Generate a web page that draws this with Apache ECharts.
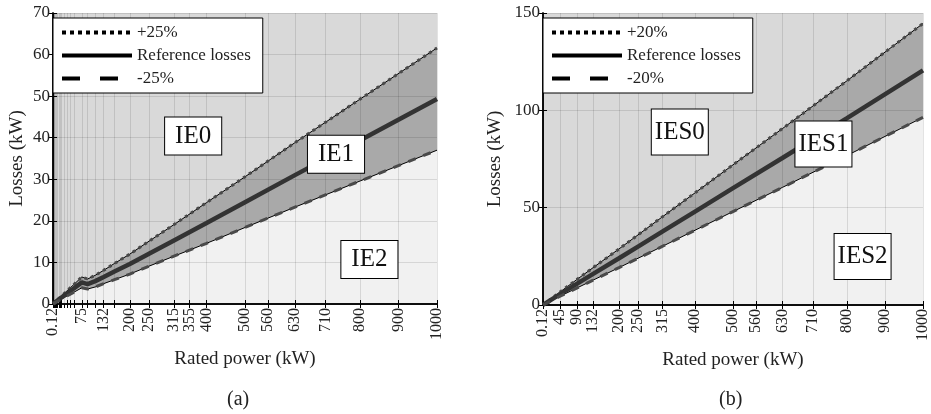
<!DOCTYPE html>
<html>
<head>
<meta charset="utf-8">
<script src="https://cdn.jsdelivr.net/npm/echarts@6/dist/echarts.min.js"></script>
<style>
  html, body { margin: 0; padding: 0; background: #fff; }
  #main { width: 931px; height: 414px; }
</style>
</head>
<body>
<div id="main"></div>
<script>
// (a) IE classes, ±25 % around the reference losses
const leftPower = [0.12, 30, 55, 75, 90, 110, 132, 160, 200, 250, 315, 400, 500, 630, 800, 1000]
const leftRef   = [0.05, 2.1, 3.8, 5.2, 4.8, 5.5, 6.5, 7.8, 9.6, 12.1, 15.3, 19.5, 24.5, 31.0, 39.4, 49.3]
const leftUpper = [0.06, 2.6, 4.75, 6.5, 6.0, 6.9, 8.1, 9.75, 12.0, 15.1, 19.1, 24.4, 30.6, 38.8, 49.3, 61.6]
const leftLower = [0.04, 1.6, 2.85, 3.9, 3.6, 4.1, 4.9, 5.85, 7.2, 9.1, 11.5, 14.6, 18.4, 23.3, 29.6, 37.0]
const leftTicks = [0.12, 0.18, 0.25, 0.37, 0.55, 0.75, 1.1, 1.5, 2.2, 3, 4, 5.5, 7.5, 11, 15, 18.5, 22, 30, 37, 45, 55, 75, 90, 110, 132, 160, 200, 250, 315, 355, 400, 500, 560, 630, 710, 800, 900, 1000]
const leftLabels = [0.12, 30, 75, 132, 200, 250, 315, 355, 400, 500, 560, 630, 710, 800, 900, 1000]
const leftBoxNames = ['IE0', 'IE1', 'IE2']
const leftBoxX = [365, 737, 824]
const leftBoxY = [40.4, 36.0, 10.7]

// (b) IES classes, ±20 % around the reference losses
const rightPower = [0.12, 45, 90, 132, 200, 250, 315, 400, 500, 630, 800, 1000]
const rightRef   = [0.02, 5.6, 11.0, 16.0, 24.0, 30.0, 37.8, 48.0, 60.0, 75.5, 96.0, 120.5]
const rightUpper = [0.02, 6.7, 13.2, 19.2, 28.8, 36.0, 45.4, 57.6, 72.0, 90.6, 115.2, 144.6]
const rightLower = [0.02, 4.5, 8.8, 12.8, 19.2, 24.0, 30.2, 38.4, 48.0, 60.4, 76.8, 96.4]
const rightTicks = [0.12, 45, 90, 132, 200, 250, 315, 400, 500, 560, 630, 710, 800, 900, 1000]
const rightLabels = [0.12, 45, 90, 132, 200, 250, 315, 400, 500, 560, 630, 710, 800, 900, 1000]
const rightBoxNames = ['IES0', 'IES1', 'IES2']
const rightBoxX = [360, 738, 841]
const rightBoxY = [88.9, 82.7, 24.9]

const serif = 'Liberation Serif'
const textColor = '#222'

const pairs = (xs, ys) => xs.map((x, i) => [x, ys[i]])

// 4 axes per panel: bottom/left carry labels, top/right only mirror the ticks
const makeAxes = (gridIndex, ticks, labels, yMax, yInterval, nameGap) => {
  const xAxes = [
    {
      type: 'value', gridIndex: gridIndex, position: 'bottom', min: 0, max: 1000, z: 3,
      name: 'Rated power (kW)', nameLocation: 'middle', nameGap: 46,
      nameTextStyle: { fontFamily: serif, fontSize: 19, color: textColor },
      axisLine: { lineStyle: { color: '#000', width: 1.5 } },
      axisTick: { inside: true, length: 4, customValues: ticks, lineStyle: { color: '#000' } },
      axisLabel: {
        customValues: labels, rotate: 90, margin: 4, showMinLabel: true, showMaxLabel: true,
        fontFamily: serif, fontSize: 16, color: textColor,
        formatter: (v) => String(v)
      },
      splitLine: { show: true, lineStyle: { color: 'rgba(0,0,0,0.11)', width: 1 } }
    },
    {
      type: 'value', gridIndex: gridIndex, position: 'top', min: 0, max: 1000, z: 3,
      axisLine: { lineStyle: { color: '#000', width: 1.5 } },
      axisTick: { inside: true, length: 4, customValues: ticks, lineStyle: { color: '#000' } },
      axisLabel: { show: false },
      splitLine: { show: false }
    }
  ]
  const yAxes = [
    {
      type: 'value', gridIndex: gridIndex, position: 'left', min: 0, max: yMax, interval: yInterval, z: 3,
      name: 'Losses (kW)', nameLocation: 'middle', nameGap: nameGap,
      nameTextStyle: { fontFamily: serif, fontSize: 19, color: textColor },
      axisLine: { show: true, lineStyle: { color: '#000', width: 1.5 } },
      axisTick: { show: true, inside: true, length: 4, lineStyle: { color: '#000' } },
      axisLabel: { margin: 3, fontFamily: serif, fontSize: 17, color: textColor },
      splitLine: { show: true, lineStyle: { color: 'rgba(0,0,0,0.11)', width: 1 } }
    },
    {
      type: 'value', gridIndex: gridIndex, position: 'right', min: 0, max: yMax, interval: yInterval, z: 3,
      axisLine: { show: true, lineStyle: { color: '#000', width: 1.5 } },
      axisTick: { show: true, inside: true, length: 4, lineStyle: { color: '#000' } },
      axisLabel: { show: false },
      splitLine: { show: false }
    }
  ]
  return { xAxes, yAxes }
}

const makeSeries = (axisIndex, tag, power, ref, upper, lower, boxNames, boxX, boxY, boxFont, boxPad) => {
  const onAxes = { xAxisIndex: axisIndex, yAxisIndex: axisIndex, symbol: 'none', silent: true }
  return [
    // shaded band between the two limits, lower class shaded above it
    { ...onAxes, type: 'line', name: 'band' + tag, data: pairs(power, upper), z: 1,
      lineStyle: { width: 0 }, areaStyle: { color: '#a9a9a9', opacity: 1 } },
    { ...onAxes, type: 'line', name: 'low' + tag, data: pairs(power, lower), z: 2,
      lineStyle: { width: 0 }, areaStyle: { color: '#f1f1f1', opacity: 1 } },
    // thin black edges under the dotted / dashed marks
    { ...onAxes, type: 'line', name: 'upEdge' + tag, data: pairs(power, upper), z: 4,
      lineStyle: { color: '#000', width: 1 } },
    { ...onAxes, type: 'line', name: 'lowEdge' + tag, data: pairs(power, lower), z: 4,
      lineStyle: { color: '#000', width: 1 } },
    { ...onAxes, type: 'line', name: '+' + tag, data: pairs(power, upper), z: 5,
      itemStyle: { color: '#000' },
      lineStyle: { color: '#4a4a4a', width: 3, type: [3, 4] } },
    { ...onAxes, type: 'line', name: 'Reference losses', data: pairs(power, ref), z: 5,
      itemStyle: { color: '#000' },
      lineStyle: { color: '#333', width: 4.5 } },
    { ...onAxes, type: 'line', name: '-' + tag, data: pairs(power, lower), z: 5,
      itemStyle: { color: '#000' },
      lineStyle: { color: '#4a4a4a', width: 3, type: [8, 8] } },
    {
      xAxisIndex: axisIndex, yAxisIndex: axisIndex, type: 'scatter', name: 'boxes' + tag, silent: true, z: 8,
      symbolSize: 0, itemStyle: { color: '#fff', opacity: 1 },
      data: boxNames.map((n, i) => ({ name: n, value: [boxX[i], boxY[i]] })),
      label: {
        show: true, position: 'inside', formatter: '{b}', opacity: 1,
        fontFamily: serif, fontSize: boxFont, color: '#111',
        backgroundColor: '#fff', borderColor: '#000', borderWidth: 1, padding: boxPad
      }
    }
  ]
}

const makeLegend = (left, tag) => ({
  left: left, top: 18, orient: 'vertical', z: 10, selectedMode: false,
  backgroundColor: '#fff', borderColor: '#000', borderWidth: 1,
  padding: [6, 12, 6, 7], itemGap: 6, itemWidth: 70, itemHeight: 14,
  textStyle: { fontFamily: serif, fontSize: 17, color: textColor },
  itemStyle: { opacity: 0 },
  data: [
    { name: '+' + tag, lineStyle: { color: '#000', width: 4, type: [4, 4] } },
    { name: 'Reference losses', lineStyle: { color: '#000', width: 4, type: 'solid' } },
    { name: '-' + tag, lineStyle: { color: '#000', width: 4, type: [18, 20] } }
  ]
})

const a = makeAxes(0, leftTicks, leftLabels, 70, 10, 26)
const b = makeAxes(1, rightTicks, rightLabels, 150, 50, 38)

const option = {
  backgroundColor: '#fff',
  animation: false,
  title: [
    { text: '(a)', left: 222, top: 385, textStyle: { fontFamily: serif, fontSize: 20, fontWeight: 'normal', color: textColor } },
    { text: '(b)', left: 714, top: 385, textStyle: { fontFamily: serif, fontSize: 20, fontWeight: 'normal', color: textColor } }
  ],
  grid: [
    { left: 53, right: 494, top: 13, bottom: 110, show: true, backgroundColor: '#d9d9d9', borderWidth: 0 },
    { left: 543, right: 5, top: 13, bottom: 109, show: true, backgroundColor: '#d9d9d9', borderWidth: 0 }
  ],
  legend: [makeLegend(53, '25%'), makeLegend(543, '20%')],
  xAxis: [...a.xAxes, ...b.xAxes],
  yAxis: [...a.yAxes, ...b.yAxes],
  series: [
    ...makeSeries(0, '25%', leftPower, leftRef, leftUpper, leftLower, leftBoxNames, leftBoxX, leftBoxY, 25, [6, 10]),
    ...makeSeries(2, '20%', rightPower, rightRef, rightUpper, rightLower, rightBoxNames, rightBoxX, rightBoxY, 25, [10, 3])
  ]
}

const myChart = echarts.init(document.getElementById('main'))
myChart.setOption(option)
window.addEventListener('resize', myChart.resize)
</script>
</body>
</html>
